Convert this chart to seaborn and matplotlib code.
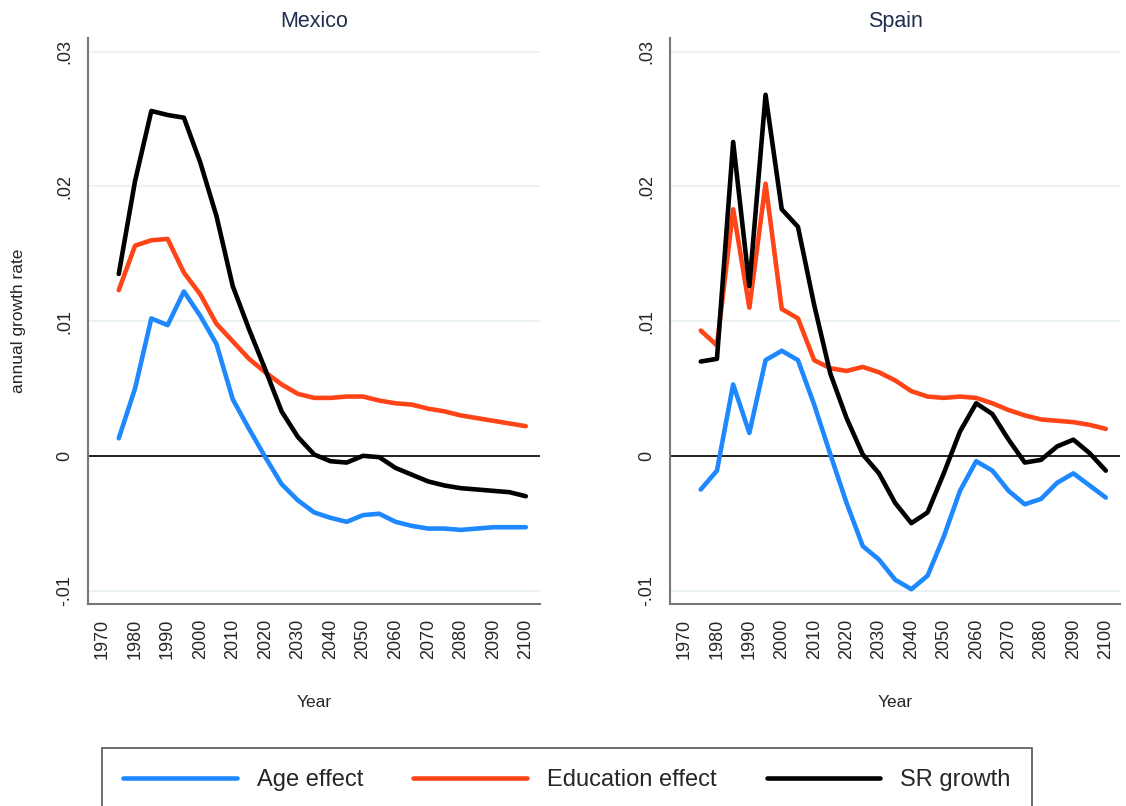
import pandas as pd
import matplotlib
matplotlib.use("Agg")
import matplotlib.pyplot as plt
import seaborn as sns

# ============================================================
# data
# ============================================================

years = list(range(1975, 2101, 5))

mex_age = [.0013, .0050, .0102, .0097, .0122, .0104, .0083, .0042, .0020, -.0001,
           -.0021, -.0033, -.0042, -.0046, -.0049, -.0044, -.0043, -.0049, -.0052,
           -.0054, -.0054, -.0055, -.0054, -.0053, -.0053, -.0053]
mex_edu = [.0123, .0156, .0160, .0161, .0136, .0120, .0098, .0085, .0072, .0062,
           .0053, .0046, .0043, .0043, .0044, .0044, .0041, .0039, .0038, .0035,
           .0033, .0030, .0028, .0026, .0024, .0022]
mex_sr = [.0135, .0204, .0256, .0253, .0251, .0218, .0178, .0126, .0094, .0064,
          .0033, .0014, .0001, -.0004, -.0005, .0000, -.0001, -.0009, -.0014,
          -.0019, -.0022, -.0024, -.0025, -.0026, -.0027, -.0030]

esp_age = [-.0025, -.0011, .0053, .0017, .0071, .0078, .0071, .0038, .0001, -.0035,
           -.0067, -.0077, -.0092, -.0099, -.0089, -.0060, -.0026, -.0004, -.0011,
           -.0026, -.0036, -.0032, -.0020, -.0013, -.0022, -.0031]
esp_edu = [.0093, .0082, .0183, .0110, .0202, .0109, .0102, .0071, .0065, .0063,
           .0066, .0062, .0056, .0048, .0044, .0043, .0044, .0043, .0039, .0034,
           .0030, .0027, .0026, .0025, .0023, .0020]
esp_sr = [.0070, .0072, .0233, .0126, .0268, .0183, .0170, .0112, .0061, .0028,
          .0001, -.0013, -.0035, -.0050, -.0042, -.0013, .0018, .0039, .0031,
          .0012, -.0005, -.0003, .0007, .0012, .0002, -.0011]

series_names = ["Age effect", "Education effect", "SR growth"]
countries = ["Mexico", "Spain"]

y_ticks = [-.01, 0, .01, .02, .03]
y_tick_labels = ["-.01", "0", ".01", ".02", ".03"]
x_ticks = list(range(1970, 2101, 10))

# long table for seaborn
rows = []
for country, vals in [("Mexico", [mex_age, mex_edu, mex_sr]),
                      ("Spain", [esp_age, esp_edu, esp_sr])]:
    for name, v in zip(series_names, vals):
        for yr, val in zip(years, v):
            rows.append({"country": country, "series": name, "Year": yr, "rate": val})
df = pd.DataFrame(rows)

# ============================================================
# style
# ============================================================

sns.set_style("white")
plt.rcParams["font.family"] = ["Liberation Sans", "DejaVu Sans"]

palette = {"Age effect": "#1E88FF", "Education effect": "#FF4418", "SR growth": "#000000"}

fig = plt.figure(figsize=(11.26, 8.06), dpi=100)
ax_left = fig.add_axes([0.078, 0.2506, 0.402, 0.702])
ax_right = fig.add_axes([0.595, 0.2506, 0.400, 0.702])

for ax, country in zip([ax_left, ax_right], countries):
    for y in y_ticks:
        ax.axhline(y, color="#EAF2F3", lw=1.5, zorder=0)
    ax.axhline(0, color="black", lw=1.2, zorder=1)

    sns.lineplot(
        data=df[df["country"] == country],
        x="Year", y="rate",
        hue="series", hue_order=series_names,
        palette=palette,
        linewidth=3.3,
        legend=False,
        ax=ax,
    )

    ax.set_xlim(1965.5, 2104.5)
    ax.set_ylim(-.011, .031)
    ax.set_xticks(x_ticks)
    ax.set_xticklabels([str(t) for t in x_ticks], rotation=90, fontsize=13)
    ax.set_yticks(y_ticks)
    ax.set_yticklabels(y_tick_labels, rotation=90, va="center", fontsize=13)
    ax.tick_params(axis="both", direction="out", length=6.5, width=1.2,
                   color="#666666", pad=4)

    for side in ["top", "right"]:
        ax.spines[side].set_visible(False)
    for side in ["left", "bottom"]:
        ax.spines[side].set_color("#777777")
        ax.spines[side].set_linewidth(1.5)

    ax.set_title(country, fontsize=15.5, color="#1F2D4F", pad=8)
    ax.set_xlabel("Year", fontsize=12.5, labelpad=26)
    ax.set_ylabel("")

ax_left.set_ylabel("annual growth rate", fontsize=12.5)
ax_left.yaxis.set_label_coords(-0.137, 0.5)

# ============================================================
# legend
# ============================================================

handles = [h for h in ax_left.get_lines() if len(h.get_xdata()) > 2]
leg = fig.legend(
    handles, series_names,
    loc="upper left",
    bbox_to_anchor=(102 / 1126, 1 - 748 / 806, (1032 - 102) / 1126, 0),
    mode="expand",
    ncol=3,
    fontsize=17,
    handlelength=4.8,
    handletextpad=0.85,
    borderpad=0.9,
    borderaxespad=0,
    fancybox=False,
    framealpha=1,
    edgecolor="#555555",
)
leg.get_frame().set_linewidth(1.2)

fig.savefig("out.png", dpi=100)
